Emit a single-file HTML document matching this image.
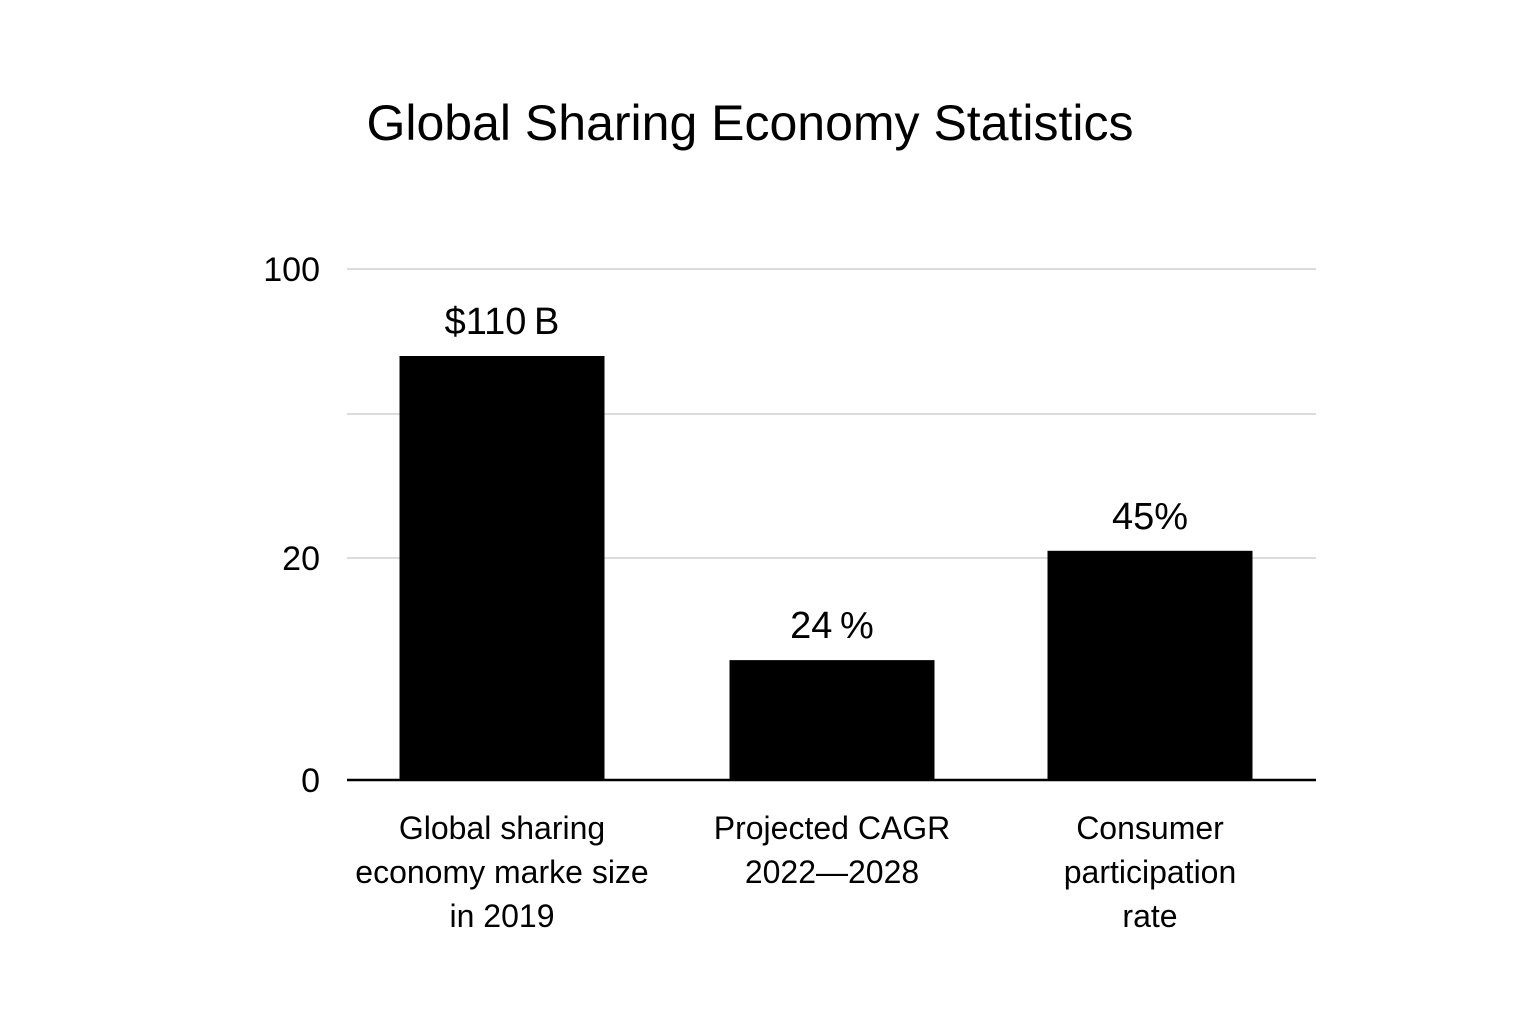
<!DOCTYPE html>
<html><head><meta charset="utf-8"><style>
html,body{margin:0;padding:0;background:#fff;}
svg{display:block;font-family:"Liberation Sans",sans-serif;}
</style></head><body>
<svg id="chart" width="1536" height="1024" viewBox="0 0 1536 1024">
<text x="750" y="140" text-anchor="middle" font-size="50" fill="#000">Global Sharing Economy Statistics</text>
<g id="grid"></g>
<g id="ticks"></g>
<g id="bars"></g>
<g id="vals"></g>
<g id="cats"></g>
<line x1="347" x2="1316" y1="780" y2="780" stroke="#000" stroke-width="2.5"/>
</svg>
<script>
const categories = [["Global sharing","economy marke size","in 2019"],["Projected CAGR","2022\u20142028"],["Consumer","participation","rate"]];
const values = [70, 10.8, 21.5];
const valueLabels = ["$110\u2009B","24\u2009%","45%"];
const tickValues = [0, 20, 50, 100];
const tickLabels = ["0","20","","100"];
const NS="http://www.w3.org/2000/svg";
const dom=[0,20,50,100], rng=[780,558,414,269];
function y(v){for(let i=0;i<dom.length-1;i++){if(v<=dom[i+1]||i===dom.length-2){const t=(v-dom[i])/(dom[i+1]-dom[i]);return rng[i]+t*(rng[i+1]-rng[i]);}}}
const left=347,right=1316,barW=205;
const centers=[502,832,1150];
function x(i){return centers[i];}
function mk(tag,attrs,parent){const e=document.createElementNS(NS,tag);for(const k in attrs)e.setAttribute(k,attrs[k]);document.getElementById(parent).appendChild(e);return e;}
tickValues.forEach((v,i)=>{
  if(v>0){const g=mk('line',{x1:left,x2:right,y1:y(v),y2:y(v),stroke:'#d0d0d0','stroke-width':1.5},'grid');
  
  }
  if(tickLabels[i]){const t=mk('text',{x:320,y:y(v)+12,'text-anchor':'end','font-size':34,fill:'#000'},'ticks');t.textContent=tickLabels[i];
  
  }
});
values.forEach((v,i)=>{
  const b=mk('rect',{x:x(i)-barW/2,y:y(v),width:barW,height:780-y(v),fill:'#000'},'bars');
  
  
  const t=mk('text',{x:x(i),y:y(v)-22,'text-anchor':'middle','font-size':38,fill:'#000'},'vals');t.textContent=valueLabels[i];
  
  
  categories[i].forEach((line,j)=>{
    const c=mk('text',{x:x(i),y:839+j*44,'text-anchor':'middle','font-size':32,fill:'#000'},'cats');c.textContent=line;
    
    
  });
});
</script>
</body></html>
